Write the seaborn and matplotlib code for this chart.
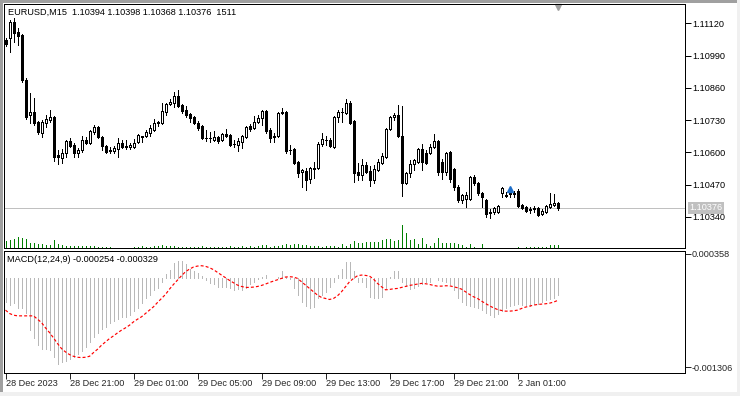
import numpy as np
import matplotlib
matplotlib.use("Agg")
import matplotlib.pyplot as plt
import matplotlib.transforms as mtransforms
from matplotlib.patches import Rectangle
import seaborn as sns

# ---------------- data ----------------
opens = [1.11053, 1.11061, 1.11125, 1.11085, 1.11073, 1.10892, 1.10751, 1.10763, 1.10722, 1.10678,
         1.10718, 1.10730, 1.10743, 1.10589, 1.10577, 1.10597, 1.10646, 1.10630, 1.10597, 1.10610,
         1.10650, 1.10638, 1.10682, 1.10702, 1.10662, 1.10626, 1.10610, 1.10606, 1.10614, 1.10638,
         1.10626, 1.10622, 1.10622, 1.10642, 1.10662, 1.10666, 1.10678, 1.10690, 1.10718, 1.10718,
         1.10763, 1.10795, 1.10799, 1.10827, 1.10791, 1.10771, 1.10755, 1.10743, 1.10718, 1.10706,
         1.10658, 1.10658, 1.10650, 1.10662, 1.10650, 1.10674, 1.10670, 1.10634, 1.10630, 1.10642,
         1.10662, 1.10706, 1.10698, 1.10722, 1.10739, 1.10767, 1.10690, 1.10666, 1.10666, 1.10763,
         1.10763, 1.10610, 1.10614, 1.10561, 1.10521, 1.10525, 1.10493, 1.10533, 1.10537, 1.10634,
         1.10650, 1.10650, 1.10622, 1.10743, 1.10763, 1.10759, 1.10799, 1.10726, 1.10521, 1.10509,
         1.10549, 1.10525, 1.10489, 1.10529, 1.10557, 1.10581, 1.10694, 1.10743, 1.10751, 1.10666,
         1.10476, 1.10517, 1.10553, 1.10561, 1.10614, 1.10597, 1.10597, 1.10622, 1.10646, 1.10561,
         1.10521, 1.10601, 1.10533, 1.10460, 1.10408, 1.10412, 1.10412, 1.10501, 1.10476, 1.10436,
         1.10408, 1.10360, 1.10360, 1.10360, 1.10436, 1.10428, 1.10436, 1.10436, 1.10444, 1.10388,
         1.10380, 1.10372, 1.10372, 1.10376, 1.10352, 1.10360, 1.10380, 1.10388, 1.10394]
highs = [1.11061, 1.11133, 1.11141, 1.11101, 1.11077, 1.10900, 1.10839, 1.10819, 1.10726, 1.10730,
         1.10751, 1.10771, 1.10747, 1.10610, 1.10614, 1.10650, 1.10658, 1.10638, 1.10618, 1.10666,
         1.10662, 1.10690, 1.10710, 1.10706, 1.10666, 1.10630, 1.10622, 1.10626, 1.10658, 1.10650,
         1.10650, 1.10638, 1.10654, 1.10674, 1.10666, 1.10690, 1.10710, 1.10734, 1.10726, 1.10799,
         1.10799, 1.10815, 1.10843, 1.10851, 1.10795, 1.10787, 1.10759, 1.10747, 1.10726, 1.10710,
         1.10690, 1.10682, 1.10686, 1.10666, 1.10678, 1.10694, 1.10674, 1.10650, 1.10658, 1.10670,
         1.10706, 1.10714, 1.10747, 1.10751, 1.10771, 1.10771, 1.10698, 1.10678, 1.10763, 1.10779,
         1.10767, 1.10630, 1.10618, 1.10565, 1.10533, 1.10537, 1.10541, 1.10561, 1.10642, 1.10678,
         1.10666, 1.10658, 1.10747, 1.10771, 1.10779, 1.10815, 1.10807, 1.10730, 1.10557, 1.10573,
         1.10561, 1.10545, 1.10549, 1.10573, 1.10597, 1.10698, 1.10747, 1.10759, 1.10791, 1.10787,
         1.10521, 1.10569, 1.10573, 1.10618, 1.10634, 1.10610, 1.10634, 1.10674, 1.10650, 1.10573,
         1.10601, 1.10606, 1.10537, 1.10468, 1.10432, 1.10440, 1.10505, 1.10509, 1.10480, 1.10440,
         1.10412, 1.10372, 1.10380, 1.10388, 1.10460, 1.10440, 1.10448, 1.10444, 1.10452, 1.10392,
         1.10384, 1.10380, 1.10384, 1.10380, 1.10372, 1.10388, 1.10436, 1.10432, 1.10398]
lows = [1.11029, 1.11004, 1.11045, 1.11033, 1.10884, 1.10734, 1.10718, 1.10710, 1.10674, 1.10662,
        1.10702, 1.10722, 1.10565, 1.10553, 1.10557, 1.10581, 1.10622, 1.10581, 1.10581, 1.10601,
        1.10634, 1.10634, 1.10674, 1.10658, 1.10610, 1.10597, 1.10597, 1.10597, 1.10581, 1.10618,
        1.10614, 1.10614, 1.10618, 1.10638, 1.10642, 1.10662, 1.10666, 1.10686, 1.10706, 1.10714,
        1.10751, 1.10791, 1.10783, 1.10783, 1.10759, 1.10743, 1.10722, 1.10714, 1.10690, 1.10654,
        1.10646, 1.10642, 1.10646, 1.10638, 1.10646, 1.10662, 1.10626, 1.10622, 1.10606, 1.10618,
        1.10658, 1.10686, 1.10694, 1.10718, 1.10710, 1.10678, 1.10642, 1.10642, 1.10662, 1.10755,
        1.10597, 1.10593, 1.10553, 1.10501, 1.10460, 1.10448, 1.10476, 1.10497, 1.10533, 1.10626,
        1.10630, 1.10622, 1.10618, 1.10722, 1.10722, 1.10755, 1.10714, 1.10480, 1.10489, 1.10489,
        1.10517, 1.10464, 1.10476, 1.10525, 1.10553, 1.10577, 1.10690, 1.10730, 1.10662, 1.10424,
        1.10472, 1.10501, 1.10529, 1.10557, 1.10529, 1.10553, 1.10593, 1.10618, 1.10509, 1.10493,
        1.10509, 1.10480, 1.10448, 1.10400, 1.10396, 1.10380, 1.10408, 1.10468, 1.10428, 1.10380,
        1.10340, 1.10336, 1.10352, 1.10356, 1.10420, 1.10420, 1.10420, 1.10420, 1.10380, 1.10372,
        1.10360, 1.10356, 1.10360, 1.10344, 1.10348, 1.10356, 1.10376, 1.10384, 1.10368]
closes = [1.11037, 1.11125, 1.11081, 1.11069, 1.10892, 1.10743, 1.10763, 1.10718, 1.10682, 1.10722,
          1.10734, 1.10743, 1.10581, 1.10581, 1.10597, 1.10646, 1.10626, 1.10597, 1.10610, 1.10650,
          1.10638, 1.10686, 1.10702, 1.10662, 1.10626, 1.10601, 1.10606, 1.10618, 1.10638, 1.10622,
          1.10622, 1.10630, 1.10638, 1.10670, 1.10666, 1.10682, 1.10698, 1.10718, 1.10722, 1.10767,
          1.10795, 1.10803, 1.10827, 1.10787, 1.10767, 1.10751, 1.10739, 1.10718, 1.10698, 1.10658,
          1.10656, 1.10658, 1.10662, 1.10646, 1.10674, 1.10666, 1.10630, 1.10632, 1.10646, 1.10666,
          1.10702, 1.10694, 1.10722, 1.10739, 1.10767, 1.10686, 1.10658, 1.10662, 1.10759, 1.10759,
          1.10606, 1.10608, 1.10557, 1.10517, 1.10529, 1.10489, 1.10537, 1.10537, 1.10634, 1.10654,
          1.10648, 1.10626, 1.10743, 1.10763, 1.10761, 1.10799, 1.10718, 1.10517, 1.10509, 1.10549,
          1.10521, 1.10489, 1.10533, 1.10561, 1.10585, 1.10694, 1.10743, 1.10751, 1.10666, 1.10476,
          1.10517, 1.10553, 1.10569, 1.10614, 1.10561, 1.10557, 1.10622, 1.10646, 1.10521, 1.10521,
          1.10597, 1.10493, 1.10460, 1.10408, 1.10428, 1.10428, 1.10501, 1.10476, 1.10436, 1.10420,
          1.10352, 1.10356, 1.10376, 1.10384, 1.10456, 1.10424, 1.10434, 1.10432, 1.10384, 1.10376,
          1.10364, 1.10368, 1.10376, 1.10348, 1.10364, 1.10384, 1.10392, 1.10396, 1.10376]
volumes = [3500, 3850, 4350, 5500, 4850, 4350, 2500, 2350, 1850, 2000,
           1650, 1500, 4000, 1850, 1500, 1150, 1150, 1000, 1150, 1150,
           1000, 850, 850, 650, 500, 500, 350, 250, 150, 150,
           200, 150, 350, 600, 850, 350, 600, 850, 1000, 1650,
           1150, 1150, 850, 500, 500, 650, 500, 650, 500, 850,
           650, 500, 500, 650, 500, 650, 850, 650, 500, 850,
           650, 850, 500, 1000, 1500, 1500, 500, 1000, 1000, 1500,
           1850, 1500, 1850, 1850, 1350, 1350, 1000, 850, 850, 500,
           850, 1000, 850, 500, 1850, 1000, 1850, 3500, 2650, 2650,
           3150, 3150, 3150, 3150, 3850, 4650, 4350, 3500, 4000, 11500,
           7650, 3850, 4650, 2150, 5000, 2150, 1000, 2500, 5150, 2500,
           2500, 2500, 2500, 2150, 1500, 500, 2150, 500, 150, 2150,
           150, 100, 100, 150, 100, 250, 100, 100, 500, 100,
           350, 350, 350, 350, 350, 500, 1500, 1500, 1511]
macd_main = [-0.000358, -0.000397, -0.000372, -0.000436, -0.000446, -0.000519, -0.000764, -0.000877, -0.000985, -0.001044,
             -0.001044, -0.001058, -0.001156, -0.001254, -0.001230, -0.001220, -0.001181, -0.001156, -0.001107, -0.001073,
             -0.001009, -0.000936, -0.000862, -0.000799, -0.000750, -0.000715, -0.000666, -0.000632, -0.000593, -0.000568,
             -0.000568, -0.000544, -0.000485, -0.000446, -0.000372, -0.000299, -0.000250, -0.000176, -0.000142, -0.000054,
             0.000054, 0.000118, 0.000216, 0.000250, 0.000250, 0.000201, 0.000132, 0.000103, 0.000069, 0.000034,
             -0.000029, -0.000078, -0.000093, -0.000127, -0.000127, -0.000127, -0.000152, -0.000176, -0.000162, -0.000176,
             -0.000142, -0.000093, -0.000054, -0.000015, 0.000020, 0.000044, -0.000005, -0.000005, 0.000020, 0.000103,
             0.000020, -0.000015, -0.000152, -0.000250, -0.000348, -0.000407, -0.000436, -0.000421, -0.000299, -0.000250,
             -0.000201, -0.000127, -0.000054, 0.000044, 0.000132, 0.000240, 0.000230, 0.000103, -0.000054, -0.000064,
             -0.000127, -0.000274, -0.000299, -0.000299, -0.000274, -0.000152, 0.000020, 0.000103, 0.000103, -0.000054,
             -0.000113, -0.000162, -0.000152, -0.000113, -0.000093, -0.000064, -0.000054, 0.000005, -0.000029, -0.000044,
             -0.000054, -0.000093, -0.000176, -0.000299, -0.000358, -0.000397, -0.000412, -0.000421, -0.000446, -0.000470,
             -0.000519, -0.000544, -0.000568, -0.000534, -0.000485, -0.000446, -0.000407, -0.000397, -0.000387, -0.000397,
             -0.000397, -0.000407, -0.000387, -0.000377, -0.000358, -0.000328, -0.000309, -0.000289, -0.000254]
macd_signal = [-0.000470, -0.000519, -0.000544, -0.000554, -0.000554, -0.000554, -0.000554, -0.000554, -0.000603, -0.000652,
               -0.000730, -0.000799, -0.000877, -0.000960, -0.001034, -0.001083, -0.001122, -0.001147, -0.001161, -0.001166,
               -0.001161, -0.001147, -0.001093, -0.001044, -0.000985, -0.000936, -0.000887, -0.000848, -0.000804, -0.000764,
               -0.000730, -0.000691, -0.000642, -0.000603, -0.000568, -0.000519, -0.000470, -0.000421, -0.000358, -0.000299,
               -0.000240, -0.000162, -0.000093, -0.000029, 0.000034, 0.000093, 0.000132, 0.000162, 0.000176, 0.000181,
               0.000172, 0.000152, 0.000123, 0.000083, 0.000044, 0.000005, -0.000034, -0.000069, -0.000103, -0.000123,
               -0.000137, -0.000137, -0.000132, -0.000123, -0.000108, -0.000088, -0.000064, -0.000044, -0.000025, -0.000005,
               0.000015, 0.000020, 0.000015, -0.000005, -0.000054, -0.000103, -0.000152, -0.000201, -0.000250, -0.000284,
               -0.000299, -0.000314, -0.000299, -0.000260, -0.000201, -0.000127, -0.000054, -0.000005, 0.000034, 0.000044,
               0.000039, 0.000029, -0.000015, -0.000078, -0.000127, -0.000172, -0.000167, -0.000157, -0.000152, -0.000137,
               -0.000123, -0.000108, -0.000098, -0.000088, -0.000078, -0.000083, -0.000093, -0.000108, -0.000118, -0.000118,
               -0.000113, -0.000113, -0.000127, -0.000142, -0.000162, -0.000201, -0.000240, -0.000274, -0.000299, -0.000338,
               -0.000372, -0.000407, -0.000436, -0.000461, -0.000475, -0.000485, -0.000485, -0.000480, -0.000470, -0.000446,
               -0.000426, -0.000412, -0.000397, -0.000387, -0.000382, -0.000377, -0.000368, -0.000353, -0.000329]
time_tick_bars = [0, 16, 32, 48, 64, 80, 96, 112, 128]
time_tick_labels = ["28 Dec 2023", "28 Dec 21:00", "29 Dec 01:00", "29 Dec 05:00", "29 Dec 09:00",
                    "29 Dec 13:00", "29 Dec 17:00", "29 Dec 21:00", "2 Jan 01:00"]
price_ticks = [1.11120, 1.10990, 1.10860, 1.10730, 1.10600, 1.10470, 1.10340]
macd_ticks = [0.000358, -0.001306]
macd_tick_labels = ["0.000358", "-0.001306"]
last_price = 1.10376
header_text = "EURUSD,M15  1.10394 1.10398 1.10368 1.10376  1511"
macd_text = "MACD(12,24,9) -0.000254 -0.000329"
arrow_bar = 126
arrow_price = 1.10452

# ---------------- style ----------------
sns.set_style("white")
plt.rcParams['font.family'] = ['Liberation Sans', 'DejaVu Sans']
FS = 6.6
LW = 0.72   # one pixel at 100 dpi

W, H = 740, 396
fig = plt.figure(figsize=(W / 100, H / 100), dpi=100)
fig.patch.set_facecolor("white")

def box(x0, y0, x1, y1):
    return [x0 / W, 1 - y1 / H, (x1 - x0) / W, (y1 - y0) / H]

ax = fig.add_axes(box(4, 4, 685, 248))
axv = ax.twinx()          # volume scale in the same pane
axm = fig.add_axes(box(4, 251, 685, 373))

XMIN = -0.375
XMAX = XMIN + 681 / 4

n = len(opens)
x = np.arange(n)
o = np.array(opens); c = np.array(closes); hi = np.array(highs); lo = np.array(lows)

# ---- volume ----
axv.vlines(x, 0, volumes, color="#008000", lw=LW, antialiased=False)
axv.set_ylim(0, 244 * 500)
axv.set_yticks([])
for s in axv.spines.values():
    s.set_visible(False)
axv.set_zorder(1)
ax.set_zorder(2)
ax.patch.set_visible(False)

# ---- price pane ----
ax.axhline(last_price, color="#c0c0c0", lw=LW, zorder=1)
ax.vlines(x, lo, hi, color="black", lw=LW, antialiased=False, zorder=3)
bull = c >= o
bottom = np.minimum(o, c)
height = np.abs(c - o)
ax.bar(x, height, bottom=bottom, width=0.5,
       color=np.where(bull, "white", "black"), edgecolor="black",
       linewidth=LW, antialiased=False, zorder=4)

ax.set_xlim(XMIN, XMAX)
axv.set_xlim(XMIN, XMAX)
ax.set_ylim(1.102145, 1.111978)
ax.set_xticks([])
ax.yaxis.tick_right()
ax.yaxis.set_label_position("right")
ax.set_yticks(price_ticks)
ax.set_yticklabels([f"{p:.5f}" for p in price_ticks])
ax.tick_params(axis="y", which="both", left=False, labelleft=False, right=True, labelright=True,
               direction="out", length=4, width=LW, pad=1, labelsize=FS, colors="black")

# last price tag
trans = mtransforms.blended_transform_factory(ax.transAxes, ax.transData)
ax.text(1 + 4.5 / 681, last_price, f"{last_price:.5f}", transform=trans, ha="left", va="center",
        fontsize=FS, color="white", zorder=10, clip_on=False,
        bbox=dict(boxstyle="square,pad=0.15", facecolor="#c0c0c0", edgecolor="none"))

# trade arrow
ax.plot([arrow_bar], [arrow_price], marker="^", ms=5, color="#1e6ec8", zorder=6, linestyle="none")
ax.vlines([arrow_bar], arrow_price - 0.00008, arrow_price, color="#1e6ec8", lw=1.5, zorder=6)

# chart shift marker
ax.plot([138], [1.0 - 3 / 244], marker="v", ms=4, color="#a0a0a0",
        transform=mtransforms.blended_transform_factory(ax.transData, ax.transAxes), clip_on=False)

# ---- MACD pane ----
axm.vlines(x, 0, macd_main, color="#b8b8b8", lw=LW, antialiased=False, zorder=2)
sns.lineplot(x=x, y=macd_signal, ax=axm, color="red", lw=0.85, linestyle=(0, (2.5, 1.8)), zorder=3)
axm.set_xlim(XMIN, XMAX)
axm.set_ylim(-0.001392, 0.000397)
axm.yaxis.tick_right()
axm.set_yticks(macd_ticks)
axm.set_yticklabels(macd_tick_labels)
axm.tick_params(axis="y", left=False, right=True, direction="out", length=4, width=LW, pad=1, labelsize=FS)
axm.set_xticks(time_tick_bars)
axm.set_xticklabels(time_tick_labels, ha="left")
axm.tick_params(axis="x", direction="out", length=4, width=LW, pad=0.6, labelsize=FS, bottom=True)
axm.set_xlabel(""); axm.set_ylabel("")

for a in (ax, axm):
    for s in a.spines.values():
        s.set_visible(True)
        s.set_color("black")
        s.set_linewidth(LW)

# texts
fig.text(8 / W, 1 - 12 / H, header_text, ha="left", va="center", fontsize=FS, color="black")
fig.text(7 / W, 1 - 260 / H, macd_text, ha="left", va="center", fontsize=FS, color="black")

# window frame
for (x0, y0, x1, y1, col) in [(0, 0, 2.5, 396, "#a0a0a0"), (0, 0, 740, 2.5, "#a0a0a0"),
                              (0, 392, 740, 396, "#f0f0f0"), (737, 0, 740, 396, "#f0f0f0")]:
    fig.patches.append(Rectangle((x0 / W, 1 - y1 / H), (x1 - x0) / W, (y1 - y0) / H,
                                 transform=fig.transFigure, facecolor=col, edgecolor="none", zorder=-1))

fig.savefig("out.png", dpi=100, facecolor="white")
